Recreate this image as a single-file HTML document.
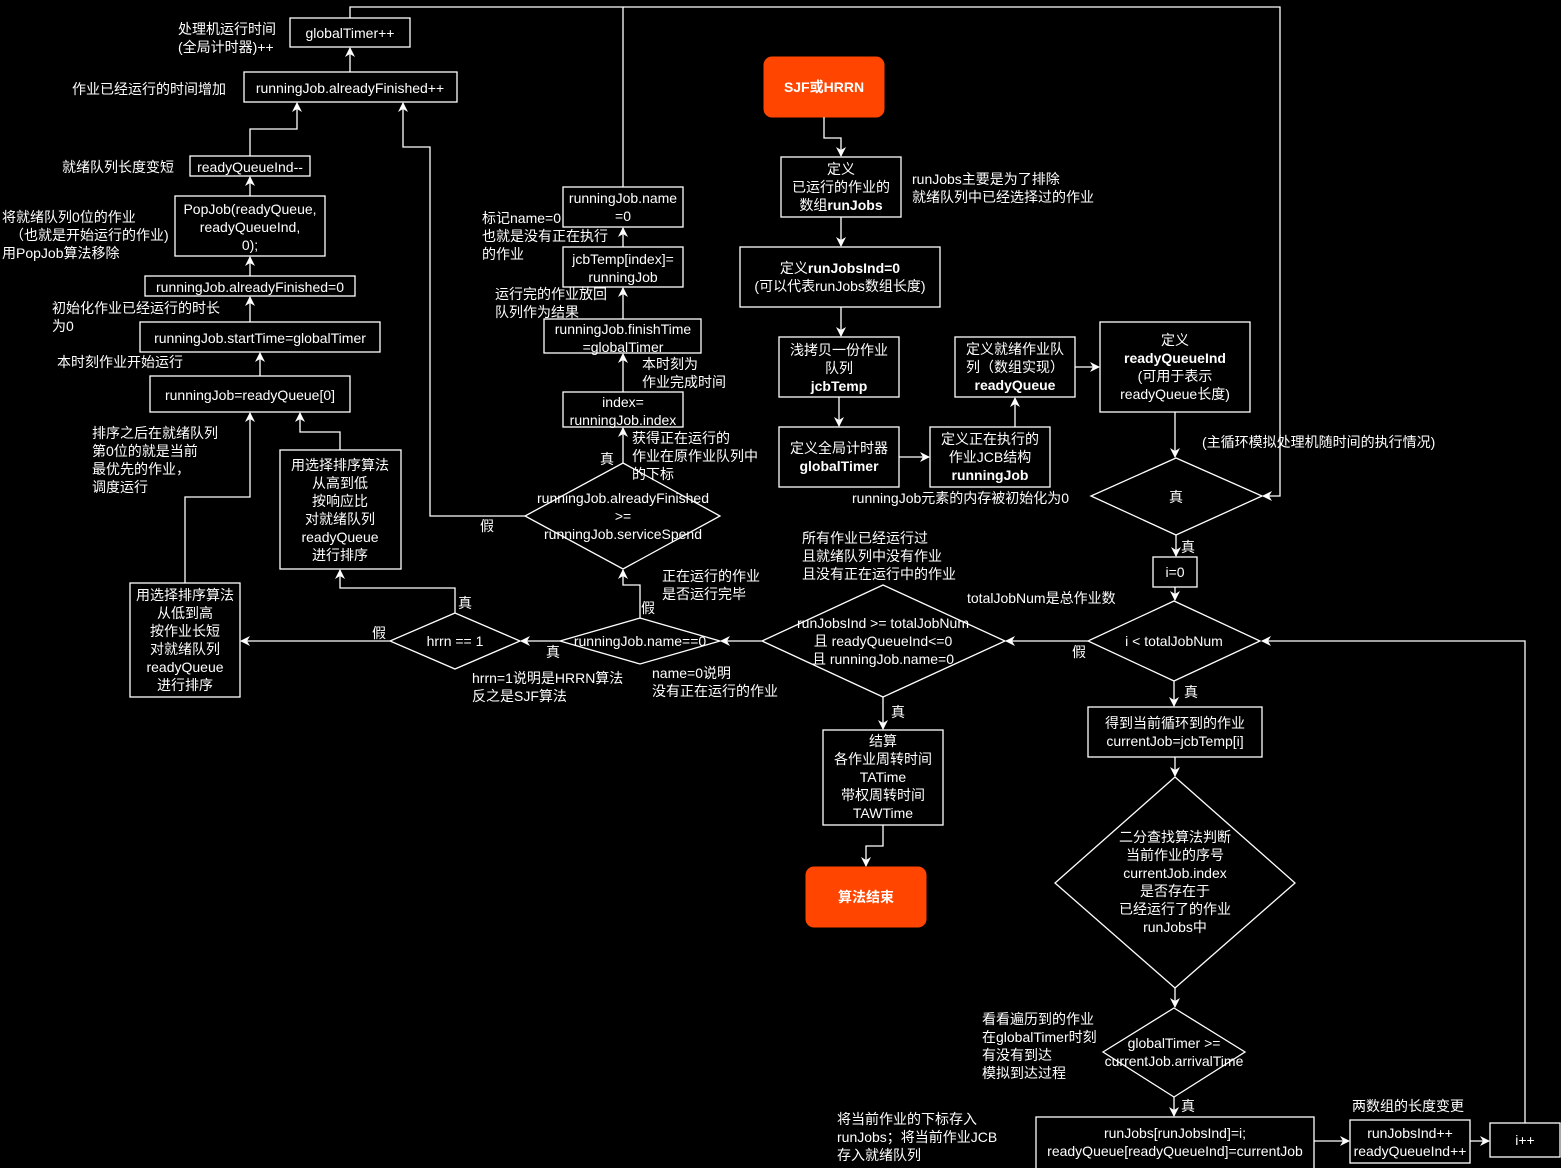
<!DOCTYPE html>
<html><head><meta charset="utf-8"><style>
html,body{margin:0;padding:0;background:#000;}
svg{display:block;}
text{font-family:"Liberation Sans","Noto Sans CJK SC",sans-serif;font-size:14px;fill:#fff;}
.b{font-weight:bold;}
</style></head><body>
<svg width="1561" height="1168" viewBox="0 0 1561 1168" xmlns="http://www.w3.org/2000/svg">
<defs>
<marker id="a" markerWidth="10" markerHeight="10" refX="9" refY="5" orient="auto" markerUnits="userSpaceOnUse">
<path d="M0,0 L10,5 L0,10 L3,5 Z" fill="#fff"/>
</marker>
</defs>
<g fill="none" stroke="#fff" stroke-width="1.3">
<!-- boxes -->
<rect x="290" y="18" width="120" height="29"/>
<rect x="244" y="72" width="213" height="30"/>
<rect x="190" y="156" width="120" height="20"/>
<rect x="175" y="196" width="150" height="60"/>
<rect x="145" y="276" width="210" height="20"/>
<rect x="140" y="322" width="240" height="30"/>
<rect x="150" y="376" width="200" height="36"/>
<rect x="280" y="450" width="121" height="119"/>
<rect x="130" y="583" width="110" height="114"/>
<rect x="563" y="187" width="120" height="40"/>
<rect x="563" y="247" width="120" height="40"/>
<rect x="544" y="319" width="157" height="34"/>
<rect x="563" y="392" width="120" height="35"/>
<rect x="823" y="730" width="120" height="95"/>
<rect x="781" y="157" width="120" height="60"/>
<rect x="740" y="247" width="200" height="60"/>
<rect x="779" y="337" width="120" height="60"/>
<rect x="779" y="427" width="120" height="60"/>
<rect x="930" y="427" width="120" height="60"/>
<rect x="955" y="337" width="120" height="60"/>
<rect x="1100" y="322" width="150" height="90"/>
<rect x="1153" y="557" width="44" height="30"/>
<rect x="1088" y="707" width="174" height="50"/>
<rect x="1036" y="1117" width="278" height="52"/>
<rect x="1350" y="1120" width="120" height="43"/>
<rect x="1490" y="1123" width="70" height="34"/>
<!-- diamonds -->
<polygon points="623,463 720,516 623,569 525,516"/>
<polygon points="640,618 720,641 640,664 560,641"/>
<polygon points="455,613 520,641 455,669 390,641"/>
<polygon points="883,585 1005,641 883,697 762,641"/>
<polygon points="1176,458 1262,496 1176,535 1091,496"/>
<polygon points="1174,601 1260,641 1174,681 1088,641"/>
<polygon points="1175,777 1295,883 1175,988 1055,883"/>
<polygon points="1174,1008 1245,1052 1174,1097 1103,1052"/>
</g>
<rect x="764" y="57" width="120" height="60" rx="8" fill="#ff4500" stroke="#ff4500"/>
<rect x="806" y="867" width="120" height="60" rx="8" fill="#ff4500" stroke="#ff4500"/>
<g fill="none" stroke="#fff" stroke-width="1.3">
<!-- connectors -->
<polyline points="350,18 350,7 1280,7 1280,496 1263,496" marker-end="url(#a)"/>
<line x1="623" y1="7" x2="623" y2="187"/>
<polyline points="1525,1123 1525,641 1262,641" marker-end="url(#a)"/>
<polyline points="525,516 430,516 430,147 403,147 403,103" marker-end="url(#a)"/>
<line x1="623" y1="463" x2="623" y2="428" marker-end="url(#a)"/>
<line x1="623" y1="392" x2="623" y2="354" marker-end="url(#a)"/>
<line x1="623" y1="319" x2="623" y2="288" marker-end="url(#a)"/>
<line x1="623" y1="247" x2="623" y2="228" marker-end="url(#a)"/>
<polyline points="640,618 640,585 623,585 623,570" marker-end="url(#a)"/>
<line x1="560" y1="641" x2="521" y2="641" marker-end="url(#a)"/>
<polyline points="455,613 455,588 340,588 340,570" marker-end="url(#a)"/>
<line x1="390" y1="641" x2="241" y2="641" marker-end="url(#a)"/>
<polyline points="340,450 340,432 300,432 300,413" marker-end="url(#a)"/>
<polyline points="185,583 185,497 250,497 250,413" marker-end="url(#a)"/>
<line x1="260" y1="376" x2="260" y2="353" marker-end="url(#a)"/>
<line x1="250" y1="322" x2="250" y2="297" marker-end="url(#a)"/>
<line x1="250" y1="276" x2="250" y2="257" marker-end="url(#a)"/>
<line x1="250" y1="196" x2="250" y2="177" marker-end="url(#a)"/>
<polyline points="250,156 250,129 297,129 297,103" marker-end="url(#a)"/>
<line x1="350" y1="72" x2="350" y2="48" marker-end="url(#a)"/>
<line x1="762" y1="641" x2="721" y2="641" marker-end="url(#a)"/>
<line x1="1088" y1="641" x2="1006" y2="641" marker-end="url(#a)"/>
<line x1="883" y1="697" x2="883" y2="729" marker-end="url(#a)"/>
<polyline points="883,825 883,846 866,846 866,866" marker-end="url(#a)"/>
<polyline points="824,117 824,138 841,138 841,156" marker-end="url(#a)"/>
<line x1="841" y1="217" x2="841" y2="246" marker-end="url(#a)"/>
<line x1="841" y1="307" x2="841" y2="336" marker-end="url(#a)"/>
<line x1="839" y1="397" x2="839" y2="426" marker-end="url(#a)"/>
<line x1="899" y1="457" x2="929" y2="457" marker-end="url(#a)"/>
<line x1="1015" y1="427" x2="1015" y2="398" marker-end="url(#a)"/>
<line x1="1075" y1="367" x2="1099" y2="367" marker-end="url(#a)"/>
<line x1="1175" y1="412" x2="1175" y2="457" marker-end="url(#a)"/>
<line x1="1176" y1="535" x2="1176" y2="556" marker-end="url(#a)"/>
<line x1="1175" y1="587" x2="1175" y2="600" marker-end="url(#a)"/>
<line x1="1174" y1="681" x2="1174" y2="706" marker-end="url(#a)"/>
<line x1="1175" y1="757" x2="1175" y2="776" marker-end="url(#a)"/>
<line x1="1175" y1="988" x2="1175" y2="1007" marker-end="url(#a)"/>
<line x1="1174" y1="1097" x2="1174" y2="1116" marker-end="url(#a)"/>
<line x1="1314" y1="1141" x2="1349" y2="1141" marker-end="url(#a)"/>
<line x1="1470" y1="1141" x2="1489" y2="1141" marker-end="url(#a)"/>
</g>
<!-- box texts -->
<g text-anchor="middle">
<text x="350" y="38">globalTimer++</text>
<text x="350" y="93">runningJob.alreadyFinished++</text>
<text x="250" y="172">readyQueueInd--</text>
<text x="250" y="214">PopJob(readyQueue,</text>
<text x="250" y="232">readyQueueInd,</text>
<text x="250" y="250">0);</text>
<text x="250" y="292">runningJob.alreadyFinished=0</text>
<text x="260" y="343">runningJob.startTime=globalTimer</text>
<text x="250" y="400">runningJob=readyQueue[0]</text>
<text x="340" y="470">用选择排序算法</text>
<text x="340" y="488">从高到低</text>
<text x="340" y="506">按响应比</text>
<text x="340" y="524">对就绪队列</text>
<text x="340" y="542">readyQueue</text>
<text x="340" y="560">进行排序</text>
<text x="185" y="600">用选择排序算法</text>
<text x="185" y="618">从低到高</text>
<text x="185" y="636">按作业长短</text>
<text x="185" y="654">对就绪队列</text>
<text x="185" y="672">readyQueue</text>
<text x="185" y="690">进行排序</text>
<text x="623" y="203">runningJob.name</text>
<text x="623" y="221">=0</text>
<text x="623" y="264">jcbTemp[index]=</text>
<text x="623" y="282">runningJob</text>
<text x="623" y="334">runningJob.finishTime</text>
<text x="623" y="352">=globalTimer</text>
<text x="623" y="407">index=</text>
<text x="623" y="425">runningJob.index</text>
<text x="623" y="503">runningJob.alreadyFinished</text>
<text x="623" y="521">&gt;=</text>
<text x="623" y="539">runningJob.serviceSpend</text>
<text x="640" y="646">runningJob.name==0</text>
<text x="455" y="646">hrrn == 1</text>
<text x="883" y="628">runJobsInd &gt;= totalJobNum</text>
<text x="883" y="646">且 readyQueueInd&lt;=0</text>
<text x="883" y="664">且 runningJob.name=0</text>
<text x="883" y="746">结算</text>
<text x="883" y="764">各作业周转时间</text>
<text x="883" y="782">TATime</text>
<text x="883" y="800">带权周转时间</text>
<text x="883" y="818">TAWTime</text>
<text x="824" y="92" class="b">SJF或HRRN</text>
<text x="866" y="902" class="b">算法结束</text>
<text x="841" y="174">定义</text>
<text x="841" y="192">已运行的作业的</text>
<text x="841" y="210">数组<tspan class="b">runJobs</tspan></text>
<text x="840" y="273">定义<tspan class="b">runJobsInd=0</tspan></text>
<text x="840" y="291">(可以代表runJobs数组长度)</text>
<text x="839" y="355">浅拷贝一份作业</text>
<text x="839" y="373">队列</text>
<text x="839" y="391" class="b">jcbTemp</text>
<text x="839" y="453">定义全局计时器</text>
<text x="839" y="471" class="b">globalTimer</text>
<text x="990" y="444">定义正在执行的</text>
<text x="990" y="462">作业JCB结构</text>
<text x="990" y="480" class="b">runningJob</text>
<text x="1015" y="354">定义就绪作业队</text>
<text x="1015" y="372">列（数组实现）</text>
<text x="1015" y="390" class="b">readyQueue</text>
<text x="1175" y="345">定义</text>
<text x="1175" y="363" class="b">readyQueueInd</text>
<text x="1175" y="381">(可用于表示</text>
<text x="1175" y="399">readyQueue长度)</text>
<text x="1176" y="502">真</text>
<text x="1175" y="577">i=0</text>
<text x="1174" y="646">i &lt; totalJobNum</text>
<text x="1175" y="728">得到当前循环到的作业</text>
<text x="1175" y="746">currentJob=jcbTemp[i]</text>
<text x="1175" y="842">二分查找算法判断</text>
<text x="1175" y="860">当前作业的序号</text>
<text x="1175" y="878">currentJob.index</text>
<text x="1175" y="896">是否存在于</text>
<text x="1175" y="914">已经运行了的作业</text>
<text x="1175" y="932">runJobs中</text>
<text x="1174" y="1048">globalTimer &gt;=</text>
<text x="1174" y="1066">currentJob.arrivalTime</text>
<text x="1175" y="1138">runJobs[runJobsInd]=i;</text>
<text x="1175" y="1156">readyQueue[readyQueueInd]=currentJob</text>
<text x="1410" y="1138">runJobsInd++</text>
<text x="1410" y="1156">readyQueueInd++</text>
<text x="1525" y="1145">i++</text>
</g>
<!-- free labels -->
<text x="178" y="34">处理机运行时间</text>
<text x="178" y="52">(全局计时器)++</text>
<text x="72" y="94">作业已经运行的时间增加</text>
<text x="62" y="172">就绪队列长度变短</text>
<text x="2" y="222">将就绪队列0位的作业</text>
<text x="10" y="240">（也就是开始运行的作业)</text>
<text x="2" y="258">用PopJob算法移除</text>
<text x="52" y="313">初始化作业已经运行的时长</text>
<text x="52" y="331">为0</text>
<text x="57" y="367">本时刻作业开始运行</text>
<text x="92" y="438">排序之后在就绪队列</text>
<text x="92" y="456">第0位的就是当前</text>
<text x="92" y="474">最优先的作业，</text>
<text x="92" y="492">调度运行</text>
<text x="482" y="223">标记name=0</text>
<text x="482" y="241">也就是没有正在执行</text>
<text x="482" y="259">的作业</text>
<text x="495" y="299">运行完的作业放回</text>
<text x="495" y="317">队列作为结果</text>
<text x="642" y="369">本时刻为</text>
<text x="642" y="387">作业完成时间</text>
<text x="632" y="443">获得正在运行的</text>
<text x="632" y="461">作业在原作业队列中</text>
<text x="632" y="479">的下标</text>
<text x="600" y="464">真</text>
<text x="480" y="531">假</text>
<text x="662" y="581">正在运行的作业</text>
<text x="662" y="599">是否运行完毕</text>
<text x="641" y="613">假</text>
<text x="458" y="608">真</text>
<text x="372" y="638">假</text>
<text x="546" y="657">真</text>
<text x="472" y="683">hrrn=1说明是HRRN算法</text>
<text x="472" y="701">反之是SJF算法</text>
<text x="652" y="678">name=0说明</text>
<text x="652" y="696">没有正在运行的作业</text>
<text x="802" y="543">所有作业已经运行过</text>
<text x="802" y="561">且就绪队列中没有作业</text>
<text x="802" y="579">且没有正在运行中的作业</text>
<text x="967" y="603">totalJobNum是总作业数</text>
<text x="1072" y="657">假</text>
<text x="891" y="717">真</text>
<text x="912" y="184">runJobs主要是为了排除</text>
<text x="912" y="202">就绪队列中已经选择过的作业</text>
<text x="1202" y="447">(主循环模拟处理机随时间的执行情况)</text>
<text x="852" y="503">runningJob元素的内存被初始化为0</text>
<text x="1181" y="552">真</text>
<text x="1184" y="697">真</text>
<text x="982" y="1024">看看遍历到的作业</text>
<text x="982" y="1042">在globalTimer时刻</text>
<text x="982" y="1060">有没有到达</text>
<text x="982" y="1078">模拟到达过程</text>
<text x="1181" y="1111">真</text>
<text x="837" y="1124">将当前作业的下标存入</text>
<text x="837" y="1142">runJobs；将当前作业JCB</text>
<text x="837" y="1160">存入就绪队列</text>
<text x="1352" y="1111">两数组的长度变更</text>
</svg>
</body></html>
